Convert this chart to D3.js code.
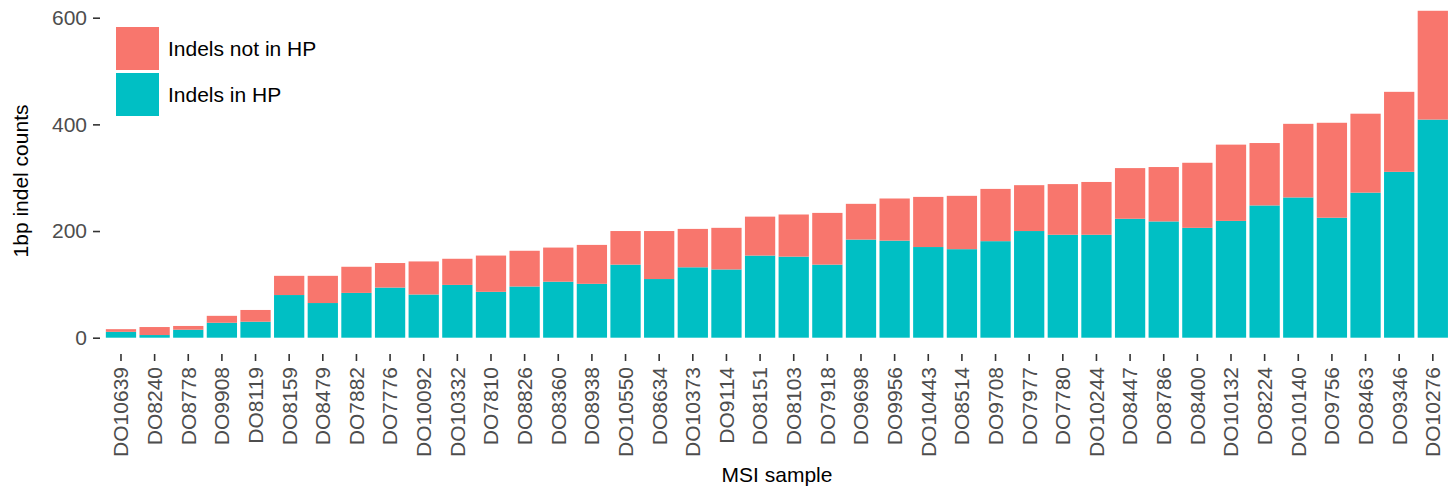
<!DOCTYPE html>
<html>
<head>
<meta charset="utf-8">
<script src="https://cdn.jsdelivr.net/npm/d3@7"></script>
<style>
  body { margin: 0; background: #fff; }
  svg text { font-family: "Liberation Sans", Arial, Helvetica, sans-serif; }
  .tick text { fill: #4d4d4d; font-size: 21px; }
  .tick line { stroke: #333; stroke-width: 1.6; }
  .domain { display: none; }
</style>
</head>
<body>
<svg id="chart" width="1456" height="492"></svg>
<script>
"use strict";

// samples, ordered by total count
var samples = ['DO10639', 'DO8240', 'DO8778', 'DO9908', 'DO8119', 'DO8159', 'DO8479', 'DO7882',
  'DO7776', 'DO10092', 'DO10332', 'DO7810', 'DO8826', 'DO8360', 'DO8938', 'DO10550', 'DO8634',
  'DO10373', 'DO9114', 'DO8151', 'DO8103', 'DO7918', 'DO9698', 'DO9956', 'DO10443', 'DO8514',
  'DO9708', 'DO7977', 'DO7780', 'DO10244', 'DO8447', 'DO8786', 'DO8400', 'DO10132', 'DO8224',
  'DO10140', 'DO9756', 'DO8463', 'DO9346', 'DO10276'];

var inHP = [11, 5, 15, 28, 30, 80, 65, 84, 94, 81, 99, 86, 96, 105, 101, 137, 110, 132, 128, 154,
  152, 137, 184, 182, 170, 166, 181, 200, 193, 193, 223, 218, 206, 219, 248, 263, 225, 272, 311, 409];

var notInHP = [5, 15, 7, 13, 22, 36, 51, 49, 46, 62, 49, 68, 67, 64, 73, 63, 90, 72, 78, 73,
  79, 97, 67, 79, 94, 100, 98, 86, 95, 99, 95, 102, 122, 143, 117, 138, 178, 148, 150, 204];

var yTicks = [0, 200, 400, 600];

var seriesNames = ['Indels not in HP', 'Indels in HP'];
var seriesColors = ['#F8766D', '#00BFC4'];

var svg = d3.select('#chart');

var rows = samples.map(function(s, i) {
  return { sample: s, inHP: inHP[i], notInHP: notInHP[i] };
});

var x = d3.scaleBand()
  .domain(samples)
  .range([100.8, 1453])
  .paddingInner(0.1)
  .paddingOuter(0.15);

var y = d3.scaleLinear()
  .domain([0, 600])
  .range([337.7, 17.7]);

// in HP sits at the bottom, not in HP on top
var stack = d3.stack().keys(['inHP', 'notInHP']);
var layers = stack(rows);
var layerColor = { inHP: seriesColors[1], notInHP: seriesColors[0] };

svg.append('g')
  .selectAll('g')
  .data(layers)
  .enter()
  .append('g')
  .attr('fill', d => layerColor[d.key])
  .selectAll('rect')
  .data(d => d)
  .enter()
  .append('rect')
  .attr('x', d => x(d.data.sample))
  .attr('width', x.bandwidth())
  .attr('y', d => y(d[1]))
  .attr('height', d => y(d[0]) - y(d[1]));

// axes
svg.append('g')
  .attr('transform', 'translate(100,0)')
  .call(d3.axisLeft(y).tickValues(yTicks).tickSize(7).tickPadding(6));

var xAxis = svg.append('g')
  .attr('transform', 'translate(0,354)')
  .call(d3.axisBottom(x).tickSize(7).tickPadding(6));

xAxis.selectAll('.tick text')
  .attr('transform', 'rotate(-90)')
  .attr('text-anchor', 'end')
  .attr('x', -13)
  .attr('y', 0)
  .attr('dy', '0.35em');

// axis titles
svg.append('text')
  .attr('x', 777)
  .attr('y', 482)
  .attr('text-anchor', 'middle')
  .attr('font-size', 21)
  .attr('fill', '#000')
  .text('MSI sample');

svg.append('text')
  .attr('transform', 'translate(28,181) rotate(-90)')
  .attr('text-anchor', 'middle')
  .attr('font-size', 21)
  .attr('fill', '#000')
  .text('1bp indel counts');

// legend
var legend = svg.append('g')
  .attr('transform', 'translate(116,27)');

var item = legend.selectAll('g')
  .data(seriesNames)
  .enter()
  .append('g')
  .attr('transform', (d, i) => 'translate(0,' + (i * 46) + ')');

item.append('rect')
  .attr('width', 43)
  .attr('height', 43)
  .attr('fill', (d, i) => seriesColors[i]);

item.append('text')
  .attr('x', 52)
  .attr('y', 21.5)
  .attr('dy', '0.35em')
  .attr('font-size', 21)
  .attr('fill', '#000')
  .text(d => d);
</script>
</body>
</html>
